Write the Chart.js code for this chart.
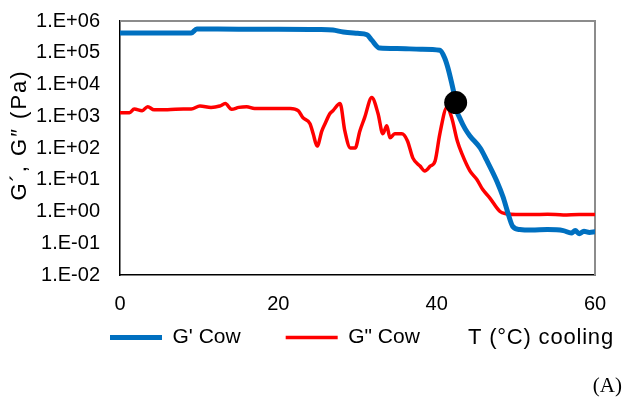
<!DOCTYPE html>
<html>
<head>
<meta charset="utf-8">
<script src="https://cdn.jsdelivr.net/npm/chart.js@4.4.1/dist/chart.umd.min.js"></script>
<style>
  html, body { margin: 0; padding: 0; background: #fff; }
</style>
</head>
<body>
<canvas id="myChart" width="624" height="403"></canvas>
<script>
// G' Cow (storage modulus, Pa) vs temperature on cooling
var tStorage = [0, 5, 9.0, 9.7, 15, 20, 25, 26.9, 28.2, 30.0, 31.2, 31.8, 32.8, 35, 38, 40.4,
  41.0, 41.4, 41.9, 42.2, 42.5, 42.9, 43.6, 44.2, 45.5, 46.3, 47.6, 48.4, 49.0, 49.6, 50.5,
  52, 54, 56, 57, 57.5, 58, 58.6, 59.3, 60];
var gStorage = [4.2e5, 4.2e5, 4.2e5, 5.6e5, 5.5e5, 5.5e5, 5.4e5, 5.2e5, 4.5e5, 4.1e5, 3.7e5, 2.5e5, 1.4e5, 1.35e5, 1.3e5, 1.2e5,
  7e4, 3.5e4, 1.1e4, 5e3, 1.6e3, 900, 400, 240, 100, 42, 9, 2.8, 0.9, 0.34, 0.27,
  0.26, 0.27, 0.25, 0.21, 0.25, 0.2, 0.24, 0.22, 0.23];

// G'' Cow (loss modulus, Pa)
var tLoss = [0, 1.2, 1.8, 2.8, 3.5, 4.3, 6, 8, 9, 10.1, 11.5, 12.6, 13.3, 14.1, 15, 16, 17, 19, 21.5,
  22.5, 23.1, 24.0, 24.4, 24.9, 25.5, 25.9, 26.5, 26.9, 27.8, 28.4, 29.1, 29.7, 30.3, 30.9, 31.8, 32.6,
  33.2, 33.7, 34.1, 34.7, 35.6, 36.3, 37.0, 37.9, 38.5, 39.2, 39.8, 40.4, 41.3, 41.9, 42.6, 43.2, 44.2,
  45.1, 45.8, 46.7, 48.0, 48.8, 50, 52, 54, 56, 58, 60];
var gLoss = [1300, 1300, 1700, 1500, 2000, 1600, 1600, 1700, 1700, 2100, 1900, 2100, 2500, 1650, 1900, 2000, 1750, 1750, 1750,
  1500, 900, 580, 280, 115, 345, 580, 1200, 1500, 2500, 345, 100, 100, 345, 900, 3900, 1200,
  280, 500, 210, 280, 280, 170, 48, 27, 19, 27, 39, 280, 1900, 900, 170, 65, 19,
  10, 5, 2.7, 1.0, 0.85, 0.8, 0.8, 0.82, 0.78, 0.8, 0.8];

// crossover point
var crossT = [42.4];
var crossG = [2700];

var yTickValues = [1e-2, 1e-1, 1e0, 1e1, 1e2, 1e3, 1e4, 1e5, 1e6];
var yTickLabels = ['1.E-02', '1.E-01', '1.E+00', '1.E+01', '1.E+02', '1.E+03', '1.E+04', '1.E+05', '1.E+06'];
var seriesNames = ["G' Cow", 'G" Cow'];

function points(xs, ys) {
  return xs.map(function (x, i) { return { x: x, y: ys[i] }; });
}

var decor = {
  id: 'decor',
  afterLayout: function (chart) {
    chart.legend.left = 65;
    chart.legend.top = 282;
  },
  beforeDatasetsDraw: function (chart) {
    var a = chart.chartArea, ctx = chart.ctx;
    ctx.save();
    ctx.strokeStyle = '#8c8c8c';
    ctx.lineWidth = 2;
    ctx.beginPath();
    ctx.moveTo(a.left, a.top);
    ctx.lineTo(a.right, a.top);
    ctx.lineTo(a.right, a.bottom);
    ctx.stroke();
    ctx.restore();
  },
  afterDraw: function (chart) {
    var ctx = chart.ctx;
    ctx.save();
    ctx.fillStyle = '#000';
    ctx.textBaseline = 'middle';

    ctx.save();
    ctx.translate(20, 135);
    ctx.rotate(-Math.PI / 2);
    ctx.font = '22px "Liberation Sans"';
    ctx.textAlign = 'center';
    ctx.letterSpacing = '2px';
    ctx.fillText('G\u00b4, G\u2033 (Pa)', 0, 0);
    ctx.restore();

    ctx.font = '22px "Liberation Sans"';
    ctx.textAlign = 'left';
    ctx.letterSpacing = '0.8px';
    ctx.fillText('T (\u00b0C) cooling', 468, 338);

    ctx.letterSpacing = '0px';
    ctx.font = '21px "Liberation Serif"';
    ctx.textAlign = 'right';
    ctx.fillText('(A)', 622, 386);
    ctx.restore();
  }
};

var ctx = document.getElementById('myChart');

var myChart = new Chart(ctx, {
  type: 'line',
  data: {
    datasets: [{
      label: '',
      data: points(crossT, crossG),
      showLine: false,
      pointRadius: 11.5,
      pointBackgroundColor: '#000',
      pointBorderWidth: 0,
      order: 0
    }, {
      label: seriesNames[0],
      data: points(tStorage, gStorage),
      borderColor: '#0070C0',
      backgroundColor: '#0070C0',
      borderWidth: 5,
      borderCapStyle: 'round',
      borderJoinStyle: 'round',
      pointRadius: 0,
      cubicInterpolationMode: 'monotone',
      order: 1
    }, {
      label: seriesNames[1],
      data: points(tLoss, gLoss),
      borderColor: '#FF0000',
      backgroundColor: '#FF0000',
      borderWidth: 3.5,
      borderCapStyle: 'round',
      borderJoinStyle: 'round',
      pointRadius: 0,
      cubicInterpolationMode: 'monotone',
      order: 2
    }]
  },
  options: {
    responsive: false,
    animation: false,
    layout: { autoPadding: false, padding: { left: 0, right: 29, top: 21, bottom: 12 } },
    plugins: {
      tooltip: { enabled: false },
      legend: {
        position: 'bottom',
        align: 'start',
        labels: {
          filter: function (item) { return item.text !== ''; },
          usePointStyle: true,
          pointStyle: 'line',
          pointStyleWidth: 52,
          padding: 45,
          color: '#000',
          font: { family: 'Liberation Sans', size: 21 }
        }
      }
    },
    scales: {
      x: {
        type: 'linear',
        min: 0,
        max: 60,
        afterFit: function (s) { s.height = 40; },
        grid: { display: false, drawTicks: false },
        border: { color: '#000', width: 1.5 },
        ticks: {
          stepSize: 20,
          padding: 17,
          color: '#000',
          font: { family: 'Liberation Sans', size: 20 }
        }
      },
      y: {
        type: 'logarithmic',
        min: 1e-2,
        max: 1e6,
        afterFit: function (s) {
          s.width = 120;
          s.paddingTop = 0;
          s.paddingBottom = 0;
        },
        afterBuildTicks: function (s) {
          s.ticks = yTickValues.map(function (v) { return { value: v }; });
        },
        grid: { display: false, drawTicks: false },
        border: { color: '#000', width: 1.5 },
        ticks: {
          padding: 20,
          color: '#000',
          font: { family: 'Liberation Sans', size: 20 },
          callback: function (value) {
            var i = yTickValues.findIndex(function (v) { return Math.abs(Math.log10(v) - Math.log10(value)) < 1e-6; });
            return i >= 0 ? yTickLabels[i] : '';
          }
        }
      }
    }
  },
  plugins: [decor]
});
</script>
</body>
</html>
